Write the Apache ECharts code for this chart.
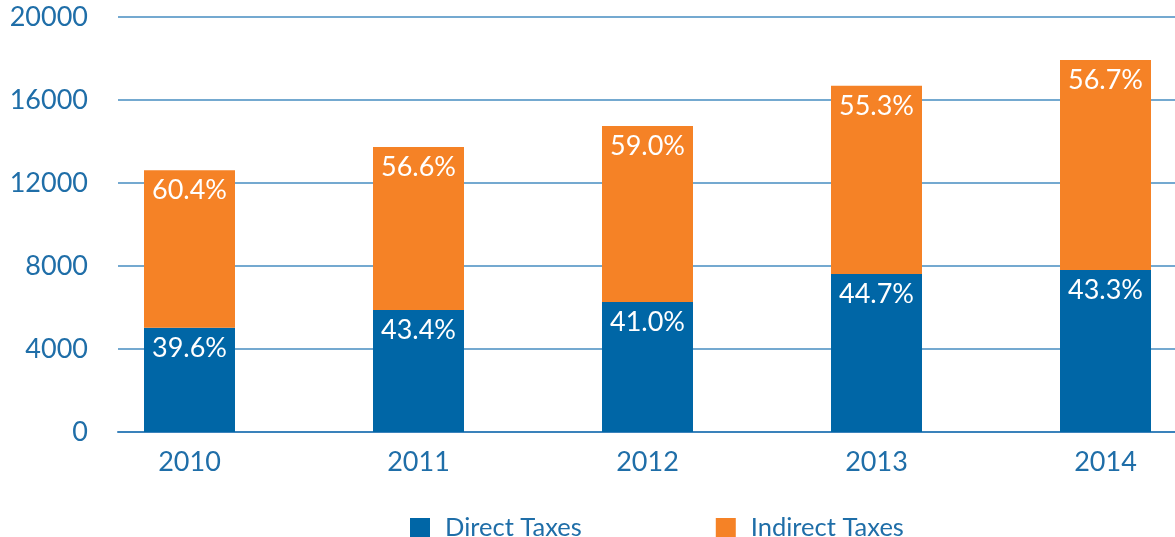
<!DOCTYPE html>
<html>
<head>
<meta charset="utf-8">
<script src="https://cdn.jsdelivr.net/npm/echarts@6/dist/echarts.min.js"></script>
<style>
	html, body { margin: 0; padding: 0; background: #fff; }
	#taxChart { width: 1175px; height: 537px; }
</style>
</head>
<body>
<div id="taxChart"></div>
<script>
	// values
	const years = ['2010', '2011', '2012', '2013', '2014']
	const directTaxes = [5020, 5880, 6265, 7614, 7807]
	const indirectTaxes = [7600, 7855, 8480, 9075, 10120]
	const directShare = ['39.6%', '43.4%', '41.0%', '44.7%', '43.3%']
	const indirectShare = ['60.4%', '56.6%', '59.0%', '55.3%', '56.7%']
	const yTicks = { min: 0, max: 20000, interval: 4000 }

	const blue = '#0066a6'
	const orange = '#f58226'
	const textBlue = '#1f6ea8'
	const font = 'Lato'

	const myChart = echarts.init(document.getElementById('taxChart'))

	const barLabel = (shares) => ({
		show: true,
		position: 'insideTop',
		distance: 7,
		color: '#fff',
		fontFamily: font,
		fontSize: 27,
		formatter: (p) => shares[p.dataIndex]
	})

	const option = {
		animation: false,
		textStyle: { fontFamily: font },
		legend: {
			top: 510,
			left: 405,
			itemWidth: 20,
			itemHeight: 20,
			itemGap: 134,
			icon: 'rect',
			textStyle: { color: textBlue, fontSize: 25.5, fontFamily: font, padding: [0, 0, 0, 10] },
			data: ['Direct Taxes', 'Indirect Taxes']
		},
		grid: [
			// gridlines + y labels
			{ left: 118, right: 0, top: 17, bottom: 105 },
			// bars (categories run a bit past the right edge)
			{ left: 75, width: 1145, top: 17, bottom: 105, outerBoundsMode: 'none' }
		],
		xAxis: [{
			gridIndex: 0,
			type: 'category',
			data: years,
			axisLabel: { show: false },
			axisTick: { show: false },
			axisLine: { lineStyle: { color: '#3a82bb', width: 2 } }
		}, {
			gridIndex: 1,
			type: 'category',
			data: years,
			axisLine: { show: false },
			axisTick: { show: false },
			axisLabel: { color: textBlue, fontSize: 27, fontFamily: font, margin: 17 }
		}],
		yAxis: [{
			gridIndex: 0,
			type: 'value',
			min: yTicks.min,
			max: yTicks.max,
			interval: yTicks.interval,
			axisLabel: { color: textBlue, fontSize: 27, fontFamily: font, margin: 30, formatter: (v) => String(v) },
			splitLine: { lineStyle: { color: '#74a9d0', width: 2 } }
		}, {
			gridIndex: 1,
			type: 'value',
			min: yTicks.min,
			max: yTicks.max,
			interval: yTicks.interval,
			show: false,
			splitLine: { show: false }
		}],
		series: [{
			name: 'Direct Taxes',
			type: 'bar',
			stack: 'tax',
			xAxisIndex: 1,
			yAxisIndex: 1,
			barWidth: 91,
			itemStyle: { color: blue },
			label: barLabel(directShare),
			data: directTaxes
		}, {
			name: 'Indirect Taxes',
			type: 'bar',
			stack: 'tax',
			xAxisIndex: 1,
			yAxisIndex: 1,
			barWidth: 91,
			itemStyle: { color: orange },
			label: barLabel(indirectShare),
			data: indirectTaxes
		}]
	}
	myChart.setOption(option)
</script>
</body>
</html>
